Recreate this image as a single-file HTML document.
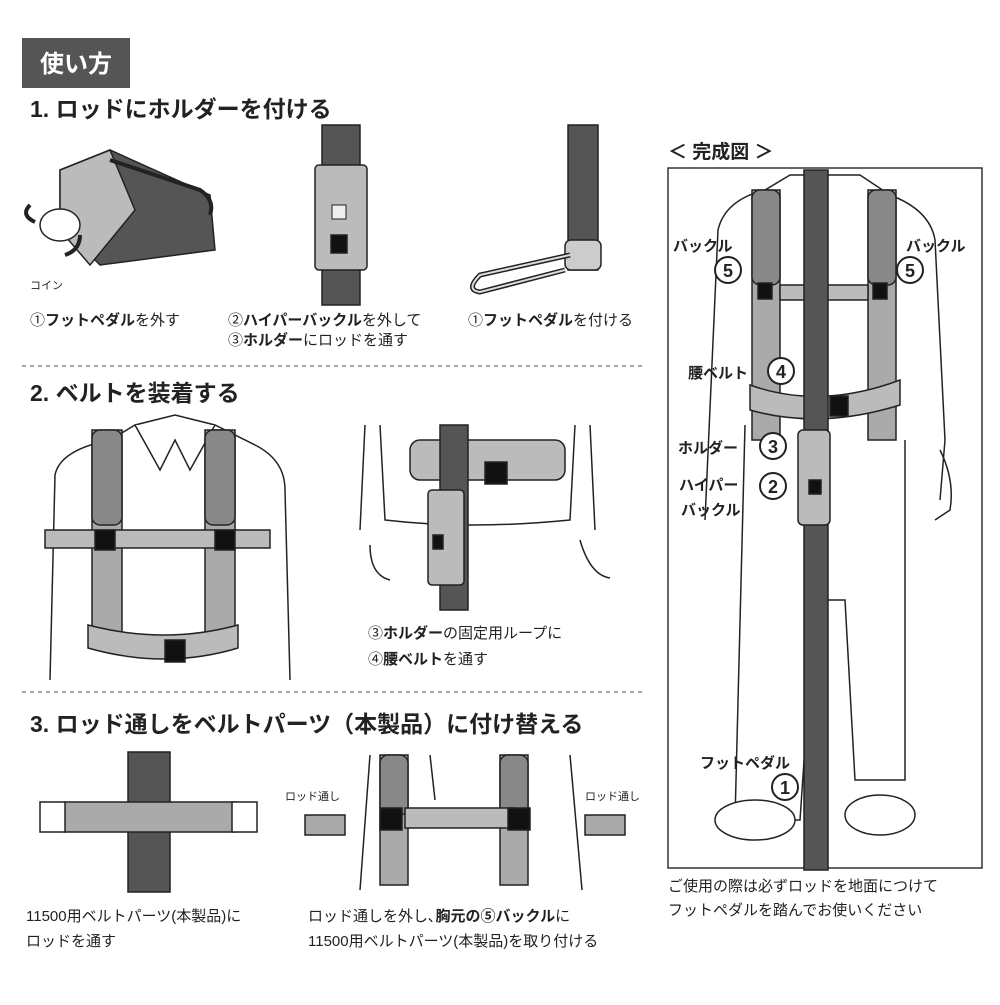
<!DOCTYPE html>
<html><head><meta charset="utf-8"><style>
body{margin:0;background:#fff}
svg text{font-family:"Liberation Sans","Noto Sans CJK JP",sans-serif}
</style></head><body>
<svg width="1000" height="1000" viewBox="0 0 1000 1000" xmlns="http://www.w3.org/2000/svg">
<rect x="0" y="0" width="1000" height="1000" fill="#fff"/>
<rect x="22" y="38" width="108" height="50" fill="#555"/>
<text x="76" y="72" font-size="24" font-weight="bold" fill="#fff" text-anchor="middle">使い方</text>
<text x="30" y="117" font-size="23" font-weight="bold" fill="#222">1. ロッドにホルダーを付ける</text>
<text x="30" y="401" font-size="23" font-weight="bold" fill="#222">2. ベルトを装着する</text>
<text x="30" y="732" font-size="23" font-weight="bold" fill="#222">3. ロッド通しをベルトパーツ（本製品）に付け替える</text>
<line x1="22" y1="366" x2="645" y2="366" stroke="#888" stroke-width="1.5" stroke-dasharray="4,4"/>
<line x1="22" y1="692" x2="645" y2="692" stroke="#888" stroke-width="1.5" stroke-dasharray="4,4"/>

<g stroke="#222" stroke-width="1.5">
<polygon points="60,170 110,150 210,195 215,250 100,265 60,225" fill="#555"/>
<polygon points="60,170 110,150 135,210 90,265 60,230" fill="#bbb"/>
<path d="M110,160 L200,190 Q215,200 210,215" fill="none" stroke-width="4"/>
<ellipse cx="60" cy="225" rx="20" ry="16" fill="#fff"/>
<path d="M30,205 Q20,215 35,222" fill="none" stroke-width="4"/>
<path d="M65,255 Q80,250 80,235" fill="none" stroke-width="4"/>
<rect x="322" y="125" width="38" height="180" fill="#555"/>
<rect x="315" y="165" width="52" height="105" rx="4" fill="#bbb"/>
<rect x="332" y="205" width="14" height="14" fill="#eee" stroke-width="1"/>
<rect x="331" y="235" width="16" height="18" fill="#111"/>
<rect x="568" y="125" width="30" height="145" fill="#555"/>
<rect x="565" y="240" width="36" height="30" rx="6" fill="#ccc"/>
<path d="M570,255 L480,275 Q465,290 480,292 L565,270" fill="none" stroke-width="5"/>
<path d="M570,255 L480,275 Q465,290 480,292 L565,270" fill="none" stroke="#ddd" stroke-width="2"/>

<path d="M50,680 L55,475 Q60,450 110,440 L135,425 L175,415 L215,425 L255,445 Q285,460 285,490 L290,680" fill="#fff"/>
<path d="M135,425 L160,470 L175,440 L190,470 L215,425" fill="#fff"/>
<rect x="92" y="430" width="30" height="210" fill="#aaa"/>
<rect x="205" y="430" width="30" height="210" fill="#aaa"/>
<rect x="92" y="430" width="30" height="95" rx="8" fill="#888"/>
<rect x="205" y="430" width="30" height="95" rx="8" fill="#888"/>
<rect x="45" y="530" width="225" height="18" fill="#bbb"/>
<path d="M88,625 Q165,645 238,625 L238,648 Q165,670 88,648Z" fill="#bbb"/>
<rect x="95" y="530" width="20" height="20" fill="#111"/>
<rect x="215" y="530" width="20" height="20" fill="#111"/>
<rect x="165" y="640" width="20" height="22" fill="#111"/>

<path d="M365,425 L360,530 M590,425 L595,530" fill="none"/>
<path d="M380,425 L385,520 Q470,530 570,520 L575,425" fill="#fff"/>
<rect x="410" y="440" width="155" height="40" rx="10" fill="#bbb"/>
<rect x="440" y="425" width="28" height="185" fill="#555"/>
<rect x="428" y="490" width="36" height="95" rx="4" fill="#bbb"/>
<rect x="433" y="535" width="10" height="14" fill="#111"/>
<rect x="485" y="462" width="22" height="22" fill="#111"/>
<path d="M370,545 Q370,575 390,580 M580,540 Q590,575 610,578" fill="none"/>

<rect x="128" y="752" width="42" height="140" fill="#555"/>
<rect x="60" y="802" width="180" height="30" rx="4" fill="#aaa"/>
<rect x="40" y="802" width="25" height="30" fill="#fff"/>
<rect x="232" y="802" width="25" height="30" fill="#fff"/>

<path d="M370,755 L360,890 M430,755 L435,800 M520,755 L525,800 M570,755 L582,890" fill="none"/>
<rect x="380" y="755" width="28" height="130" fill="#aaa"/>
<rect x="500" y="755" width="28" height="130" fill="#aaa"/>
<rect x="380" y="755" width="28" height="60" rx="8" fill="#888"/>
<rect x="500" y="755" width="28" height="60" rx="8" fill="#888"/>
<rect x="405" y="808" width="110" height="20" fill="#bbb"/>
<rect x="380" y="808" width="22" height="22" fill="#111"/>
<rect x="508" y="808" width="22" height="22" fill="#111"/>
<rect x="305" y="815" width="40" height="20" fill="#aaa"/>
<rect x="585" y="815" width="40" height="20" fill="#aaa"/>
</g>

<text x="668" y="158" font-size="19" font-weight="bold" fill="#222">＜ 完成図 ＞</text>
<rect x="668" y="168" width="314" height="700" fill="#fff" stroke="#333" stroke-width="1.5"/>
<g stroke="#222" stroke-width="1.5">
<path d="M705,520 L718,230 Q725,200 765,190 L790,175 L860,175 L890,195 Q930,210 935,240 L945,440 L940,500" fill="#fff"/>
<path d="M745,425 L735,820 L800,820 L815,600 L845,600 L855,780 L905,780 L905,440" fill="#fff"/>
<path d="M940,450 Q955,480 950,510 L935,520" fill="none"/>
<ellipse cx="755" cy="820" rx="40" ry="20" fill="#fff"/>
<ellipse cx="880" cy="815" rx="35" ry="20" fill="#fff"/>
<rect x="752" y="190" width="28" height="250" fill="#aaa"/>
<rect x="868" y="190" width="28" height="250" fill="#aaa"/>
<rect x="752" y="190" width="28" height="95" rx="8" fill="#888"/>
<rect x="868" y="190" width="28" height="95" rx="8" fill="#888"/>
<rect x="780" y="285" width="88" height="15" fill="#bbb"/>
<path d="M750,385 Q820,410 900,380 L900,405 Q820,430 750,410Z" fill="#bbb"/>
<rect x="804" y="170" width="24" height="700" fill="#555"/>
<rect x="798" y="430" width="32" height="95" rx="5" fill="#bbb"/>
<rect x="830" y="396" width="18" height="20" fill="#111"/>
<rect x="758" y="283" width="14" height="16" fill="#111"/>
<rect x="873" y="283" width="14" height="16" fill="#111"/>
<rect x="809" y="480" width="12" height="14" fill="#111"/>
</g>
<g font-size="15" font-weight="bold" fill="#222">
<text x="673" y="251">バックル</text><text x="906" y="251">バックル</text>
<text x="688" y="378">腰ベルト</text><text x="678" y="453">ホルダー</text>
<text x="679" y="490">ハイパー</text><text x="681" y="515">バックル</text>
<text x="700" y="768">フットペダル</text>
</g>
<g fill="#fff" stroke="#222" stroke-width="2">
<circle cx="728" cy="270" r="13"/><circle cx="910" cy="270" r="13"/>
<circle cx="781" cy="371" r="13"/><circle cx="773" cy="446" r="13"/>
<circle cx="773" cy="486" r="13"/><circle cx="785" cy="787" r="13"/>
</g>
<g font-size="18" font-weight="bold" fill="#222" text-anchor="middle">
<text x="728" y="277">5</text><text x="910" y="277">5</text><text x="781" y="378">4</text>
<text x="773" y="453">3</text><text x="773" y="493">2</text><text x="785" y="794">1</text>
</g>

<g font-size="15" fill="#222">
<text x="30" y="289" font-size="11">コイン</text>
<text x="30" y="325">①<tspan font-weight="bold">フットペダル</tspan>を外す</text>
<text x="228" y="325">②<tspan font-weight="bold">ハイパーバックル</tspan>を外して</text>
<text x="228" y="345">③<tspan font-weight="bold">ホルダー</tspan>にロッドを通す</text>
<text x="468" y="325">①<tspan font-weight="bold">フットペダル</tspan>を付ける</text>
<text x="368" y="638">③<tspan font-weight="bold">ホルダー</tspan>の固定用ループに</text>
<text x="368" y="664">④<tspan font-weight="bold">腰ベルト</tspan>を通す</text>
<text x="26" y="921">11500用ベルトパーツ(本製品)に</text>
<text x="26" y="946">ロッドを通す</text>
<text x="308" y="921">ロッド通しを外し､<tspan font-weight="bold">胸元の⑤バックル</tspan>に</text>
<text x="308" y="946">11500用ベルトパーツ(本製品)を取り付ける</text>
<text x="668" y="891">ご使用の際は必ずロッドを地面につけて</text>
<text x="668" y="915">フットペダルを踏んでお使いください</text>
<text x="285" y="800" font-size="11">ロッド通し</text>
<text x="585" y="800" font-size="11">ロッド通し</text>
</g>
</svg>
</body></html>
